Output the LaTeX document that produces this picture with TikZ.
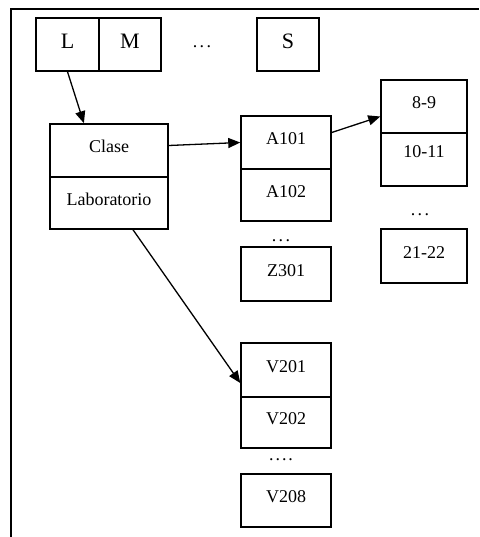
\documentclass[tikz,border=0pt]{standalone}
\usepackage{fontspec}
\setmainfont{Liberation Serif}
\usetikzlibrary{arrows.meta,calc}
\begin{document}
\begin{tikzpicture}[x=1pt,y=-1pt,
  cell/.style={draw,line width=1.5pt,inner sep=0pt,font=\fontsize{18}{20}\selectfont,
    text height=14pt,text depth=10pt},
  day/.style={cell,minimum height=53pt,font=\fontsize{22}{24}\selectfont,text height=16pt,text depth=8pt},
  dots/.style={inner sep=0pt,anchor=base,font=\fontsize{18}{20}\selectfont},
  conn/.style={line width=1.3pt,-{Triangle[length=12pt,width=10pt]}}
]
\useasboundingbox (0,0) rectangle (479,537);
% frame
\draw[line width=1.8pt] (11,537) -- (11,9) -- (479,9);
% days
\node[day,minimum width=63pt] (L) at (67.5,44.5) {L};
\node[day,minimum width=62pt] (M) at (130,44.5) {M};
\node[dots] (d0) at (202,48) {.\kern2.5pt.\kern2.5pt.};
\node[day,minimum width=62pt] (S) at (288,44.5) {S};
% type
\node[cell,minimum width=118pt,minimum height=53pt] (C) at (109,150.5) {Clase};
\node[cell,minimum width=118pt,minimum height=52pt] (Lab) at (109,203) {Laboratorio};
% classrooms
\node[cell,minimum width=90pt,minimum height=53pt] (A1) at (286,142.5) {A101};
\node[cell,minimum width=90pt,minimum height=52pt] (A2) at (286,195) {A102};
\node[dots] (d1) at (281,241) {.\kern2.5pt.\kern2.5pt.};
\node[cell,minimum width=90pt,minimum height=54pt] (Z) at (286,274) {Z301};
% hours
\node[cell,minimum width=86pt,minimum height=53pt] (H1) at (424,106.5) {8-9};
\node[cell,minimum width=86pt,minimum height=53pt,text height=10pt,text depth=13pt] (H2) at (424,159.5) {10-11};
\node[dots] (d2) at (420,215) {.\kern2.5pt.\kern2.5pt.};
\node[cell,minimum width=86pt,minimum height=54pt] (H3) at (424,256) {21-22};
% labs
\node[cell,minimum width=90pt,minimum height=54pt] (V1) at (286,370) {V201};
\node[cell,minimum width=90pt,minimum height=51pt] (V2) at (286,422.5) {V202};
\node[dots] (d3) at (281,460) {.\kern2pt.\kern2pt.\kern2pt.};
\node[cell,minimum width=90pt,minimum height=53pt] (V8) at (286,500.5) {V208};
% connectors
\draw[conn] (L.south) -- ($(C.north west)!0.29!(C.north east)$);
\draw[conn] ($(C.east)+(0,-5)$) -- (A1.west);
\draw[conn] ($(A1.east)+(0,-10)$) -- ($(H1.west)+(0,10)$);
\draw[conn] ($(Lab.south)+(24,0)$) -- ($(V1.west)+(0,13)$);
\end{tikzpicture}
\end{document}
